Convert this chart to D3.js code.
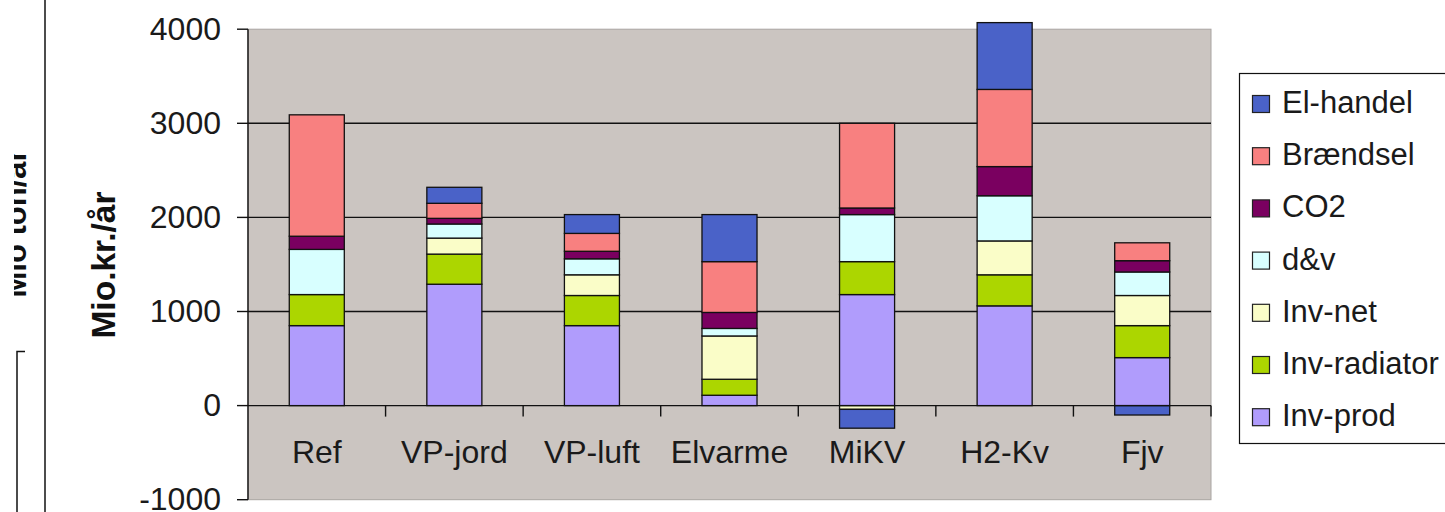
<!DOCTYPE html>
<html>
<head>
<meta charset="utf-8">
<script src="https://cdn.jsdelivr.net/npm/d3@7"></script>
<style>
  html, body { margin: 0; padding: 0; background: #fff; }
  svg { display: block; font-family: Arial, "Liberation Sans", sans-serif; }
</style>
</head>
<body>
<svg id="chart" width="1445" height="512"></svg>
<script>
// Scenario categories and stacked cost components (Mio.kr./år)
const categories = ["Ref", "VP-jord", "VP-luft", "Elvarme", "MiKV", "H2-Kv", "Fjv"];
const seriesNames = ["Inv-prod", "Inv-radiator", "Inv-net", "d&v", "CO2", "Brændsel", "El-handel"];
const invProd     = [850, 1290, 850, 110, 1180, 1060, 510];
const invRadiator = [330, 320, 320, 170, 350, 330, 340];
const invNet      = [0, 170, 220, 460, -40, 360, 320];
const dv          = [480, 150, 170, 80, 500, 480, 250];
const co2         = [140, 60, 80, 170, 70, 310, 120];
const braendsel   = [1290, 160, 190, 540, 900, 820, 190];
const elHandel    = [0, 170, 200, 500, -200, 710, -100];
const yTicks = [-1000, 0, 1000, 2000, 3000, 4000];
const seriesColors = ["#b09cfc", "#acd600", "#fafdc8", "#d8ffff", "#7a0060", "#f88080", "#4a62c8"];

const seriesValues = [invProd, invRadiator, invNet, dv, co2, braendsel, elHandel];
const rows = categories.map((c, i) => {
  const r = { cat: c };
  seriesNames.forEach((s, k) => { r[s] = seriesValues[k][i]; });
  return r;
});

const svg = d3.select("#chart");

const plot = { left: 248, right: 1211, top: 29.2, bottom: 499.7 };
const x = d3.scaleBand().domain(categories).range([plot.left, plot.right]).padding(0);
const y = d3.scaleLinear().domain([-1000, 4000]).range([plot.bottom, plot.top]);

// Edge of the neighbouring chart on the left
const defs = svg.append("defs");
defs.append("clipPath").attr("id", "leftClip")
  .append("rect").attr("x", 14).attr("y", 0).attr("width", 40).attr("height", 512);
svg.append("g")
  .attr("clip-path", "url(#leftClip)")
  .append("text")
  .attr("transform", "translate(25.5,223.5) rotate(-90)")
  .attr("text-anchor", "middle")
  .attr("font-weight", "bold")
  .attr("font-size", 31)
  .attr("fill", "#111")
  .text("Mio ton/år");
svg.append("line").attr("x1", 45).attr("x2", 45).attr("y1", 0).attr("y2", 512)
  .attr("stroke", "#111").attr("stroke-width", 1.5);
svg.append("path").attr("d", "M25,351.5 H17 V512")
  .attr("fill", "none").attr("stroke", "#111").attr("stroke-width", 1.5);

// Plot area
svg.append("rect")
  .attr("x", plot.left).attr("y", plot.top)
  .attr("width", plot.right - plot.left).attr("height", plot.bottom - plot.top)
  .attr("fill", "#cbc5c1").attr("stroke", "#a8a4a1").attr("stroke-width", 1);

// Gridlines
svg.append("g").selectAll("line")
  .data(yTicks.filter(v => v > 0 && v < 4000))
  .join("line")
  .attr("x1", plot.left).attr("x2", plot.right)
  .attr("y1", d => y(d)).attr("y2", d => y(d))
  .attr("stroke", "#111").attr("stroke-width", 1.4);

// Stacked bars
const stack = d3.stack().keys(seriesNames).offset(d3.stackOffsetDiverging);
const stacked = stack(rows);
const barW = x.bandwidth() * 0.4;

svg.append("g").selectAll("g")
  .data(stacked)
  .join("g")
  .attr("fill", (d, i) => seriesColors[i])
  .selectAll("rect")
  .data(d => d.filter(p => p[1] !== p[0]))
  .join("rect")
  .attr("x", d => x(d.data.cat) + (x.bandwidth() - barW) / 2)
  .attr("width", barW)
  .attr("y", d => y(Math.max(d[0], d[1])))
  .attr("height", d => Math.abs(y(d[0]) - y(d[1])))
  .attr("stroke", "#111")
  .attr("stroke-width", 1.3);

// Category axis along zero
const y0 = y(0);
svg.append("line").attr("x1", plot.left).attr("x2", plot.right)
  .attr("y1", y0).attr("y2", y0).attr("stroke", "#111").attr("stroke-width", 1.4);
svg.append("g").selectAll("line")
  .data(d3.range(1, categories.length + 1))
  .join("line")
  .attr("x1", i => plot.left + i * x.step()).attr("x2", i => plot.left + i * x.step())
  .attr("y1", y0).attr("y2", y0 + 11)
  .attr("stroke", "#111").attr("stroke-width", 1.4);
svg.append("g").selectAll("text")
  .data(categories)
  .join("text")
  .attr("x", d => x(d) + x.bandwidth() / 2)
  .attr("y", 463)
  .attr("text-anchor", "middle")
  .attr("font-size", 32)
  .attr("fill", "#1a1a1a")
  .text(d => d);

// Value axis
svg.append("line").attr("x1", plot.left).attr("x2", plot.left)
  .attr("y1", plot.top).attr("y2", plot.bottom).attr("stroke", "#111").attr("stroke-width", 1.4);
const yAxis = svg.append("g");
yAxis.selectAll("line")
  .data(yTicks)
  .join("line")
  .attr("x1", plot.left - 11).attr("x2", plot.left)
  .attr("y1", d => y(d)).attr("y2", d => y(d))
  .attr("stroke", "#111").attr("stroke-width", 1.4);
yAxis.selectAll("text")
  .data(yTicks)
  .join("text")
  .attr("x", 221)
  .attr("y", d => y(d))
  .attr("dy", "0.33em")
  .attr("text-anchor", "end")
  .attr("font-size", 32)
  .attr("fill", "#1a1a1a")
  .text(d => d);

svg.append("text")
  .attr("transform", "translate(115,265) rotate(-90)")
  .attr("text-anchor", "middle")
  .attr("font-weight", "bold")
  .attr("font-size", 33.5)
  .attr("fill", "#111")
  .text("Mio.kr./år");

// Legend (top entry is the last series)
const legend = svg.append("g");
legend.append("rect")
  .attr("x", 1239.5).attr("y", 73.5).attr("width", 230).attr("height", 370)
  .attr("fill", "#fff").attr("stroke", "#111").attr("stroke-width", 1.2);
const legendOrder = seriesNames.map((s, i) => ({ name: s, color: seriesColors[i] })).reverse();
const items = legend.selectAll("g.item")
  .data(legendOrder)
  .join("g")
  .attr("class", "item")
  .attr("transform", (d, i) => `translate(0,${113 + i * 52.2})`);
items.append("rect")
  .attr("x", 1252.5).attr("y", -17.5).attr("width", 17).attr("height", 17)
  .attr("fill", d => d.color).attr("stroke", "#222").attr("stroke-width", 1.2);
items.append("text")
  .attr("x", 1282).attr("y", 0)
  .attr("font-size", 31)
  .attr("fill", "#1a1a1a")
  .text(d => d.name);
</script>
</body>
</html>
